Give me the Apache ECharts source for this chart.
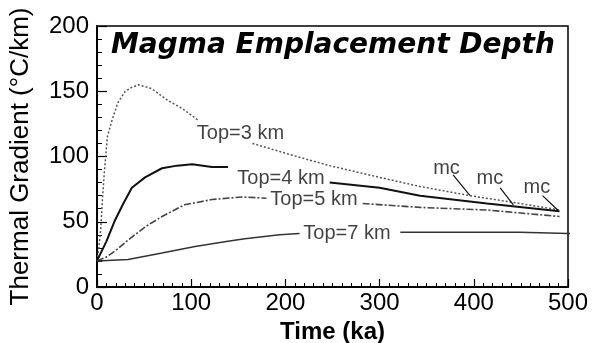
<!DOCTYPE html>
<html><head><meta charset="utf-8">
<script src="https://cdn.jsdelivr.net/npm/echarts@6/dist/echarts.min.js"></script>
<style>html,body{margin:0;padding:0;background:#fff}#c{width:611px;height:343px}</style>
</head><body><div id="c"></div>
<script>
// ---- data (time in ka, gradient in °C/km); null = gap where the label sits ----
const top3Time = [0, 2, 4, 6, 8, 11, 16, 22, 30, 37, 44, 58, 75, 90, 107, 135, 165, 212, 247, 300, 343, 396, 449, 491];
const top3Grad = [20, 30, 45, 70, 90, 115, 128, 141, 150, 153, 155, 152, 143, 137, 128, null, 110, 100, 93, 84, 77, 70, 64, 59];
const top4Time = [0, 10, 19, 28, 37, 51, 69, 85, 101, 122, 139, 190, 247, 300, 343, 414, 491];
const top4Grad = [20, 35, 51, 64, 76, 84, 91, 93, 94, 92, 92, null, 80, 76, 70, 64, 58];
const top5Time = [0, 10, 20, 33, 51, 69, 93, 122, 154, 180, 230, 282, 343, 414, 491];
const top5Grad = [20, 23, 28, 36, 46, 54, 63, 67, 69, 68, null, 64, 61, 59, 54];
const top7Time = [0, 33, 69, 104, 139, 157, 194, 215, 270, 322, 449, 500, 546];
const top7Grad = [20, 21, 26, 31, 35, 37, 40, 41, null, 42, 42, 41, 41];
const curveLabels = ['Top=3 km', 'Top=4 km', 'Top=5 km', 'Top=7 km'];
const curveLabelTime = [106, 149, 184, 219];
const curveLabelGrad = [118, 83.5, 67, 41];
const mcLabelTime = [371, 417, 467];
const mcLabelGrad = [91, 83, 76];
const mcFromTime = [378, 428, 473];
const mcFromGrad = [86, 76, 70];
const mcToTime = [396, 442, 489];
const mcToGrad = [70, 63, 59];
const xTicks = [0, 100, 200, 300, 400, 500];
const yTicks = [0, 50, 100, 150, 200];

function pairs(t, v) { return t.map((x, i) => [x, v[i] === null ? '-' : v[i]]); }

const FONT = '"Liberation Sans", Arial, sans-serif';
const chart = echarts.init(document.getElementById('c'), null, { renderer: 'canvas' });

const mcSeries = mcFromTime.map((t, i) => ({
  type: 'line', data: [[t, mcFromGrad[i]], [mcToTime[i], mcToGrad[i]]],
  symbol: 'none', silent: true, lineStyle: { color: '#111', width: 1.2 }, z: 5
}));

chart.setOption({
  animation: false,
  backgroundColor: '#fff',
  grid: { left: 97, top: 26, right: 43, bottom: 56, containLabel: false, outerBoundsMode: 'none',
    show: true, borderColor: '#000', borderWidth: 1.5, backgroundColor: 'transparent' },
  graphic: [{
    type: 'text', left: 111, top: 32,
    style: { text: 'Magma Emplacement Depth', font: 'italic bold 28px "DejaVu Sans", sans-serif', fill: '#000' }
  }],
  xAxis: {
    type: 'value', min: xTicks[0], max: xTicks[xTicks.length - 1], interval: 100,
    name: 'Time (ka)', nameLocation: 'middle', nameGap: 28,
    nameTextStyle: { fontFamily: FONT, fontSize: 24, fontWeight: 'bold', color: '#000' },
    axisLine: { lineStyle: { color: '#000', width: 2 } },
    axisTick: { inside: true, length: 8, lineStyle: { color: '#000', width: 1.2 } },
    minorTick: { show: true, splitNumber: 10, length: 4, lineStyle: { color: '#000', width: 1 } },
    splitLine: { show: false },
    axisLabel: { fontFamily: FONT, fontSize: 24, color: '#000', margin: 4 }
  },
  yAxis: {
    type: 'value', min: yTicks[0], max: yTicks[yTicks.length - 1], interval: 50,
    name: 'Thermal Gradient (°C/km)', nameLocation: 'middle', nameGap: 63, nameRotate: 90,
    nameTextStyle: { fontFamily: FONT, fontSize: 26, color: '#000' },
    axisLine: { lineStyle: { color: '#000', width: 2 } },
    axisTick: { inside: true, length: 10, lineStyle: { color: '#000', width: 1.2 } },
    minorTick: { show: true, splitNumber: 5, length: 5, lineStyle: { color: '#000', width: 1 } },
    splitLine: { show: false },
    axisLabel: { fontFamily: FONT, fontSize: 24, color: '#000', margin: 8 }
  },
  series: [
    { name: 'Top=3 km', type: 'line', data: pairs(top3Time, top3Grad), symbol: 'none', connectNulls: false,
      lineStyle: { color: '#555', width: 1.5, type: [2, 2] } },
    { name: 'Top=4 km', type: 'line', data: pairs(top4Time, top4Grad), symbol: 'none', connectNulls: false,
      lineStyle: { color: '#111', width: 2 } },
    { name: 'Top=5 km', type: 'line', data: pairs(top5Time, top5Grad), symbol: 'none', connectNulls: false,
      lineStyle: { color: '#444', width: 1.6, type: [7, 2, 2, 2] } },
    { name: 'Top=7 km', type: 'line', data: pairs(top7Time, top7Grad), symbol: 'none', connectNulls: false, clip: false,
      lineStyle: { color: '#333', width: 1.5 } },
    { type: 'scatter', symbolSize: 0, silent: true,
      data: curveLabels.map((s, i) => ({ value: [curveLabelTime[i], curveLabelGrad[i]], name: s })),
      label: { show: true, position: 'right', distance: 0, formatter: p => p.name,
        fontFamily: FONT, fontSize: 20, color: '#111' } },
    { type: 'scatter', symbolSize: 0, silent: true,
      data: mcLabelTime.map((t, i) => [t, mcLabelGrad[i]]),
      label: { show: true, position: 'inside', formatter: 'mc', fontFamily: FONT, fontSize: 20, color: '#111' } },
    ...mcSeries
  ]
});
</script></body></html>
